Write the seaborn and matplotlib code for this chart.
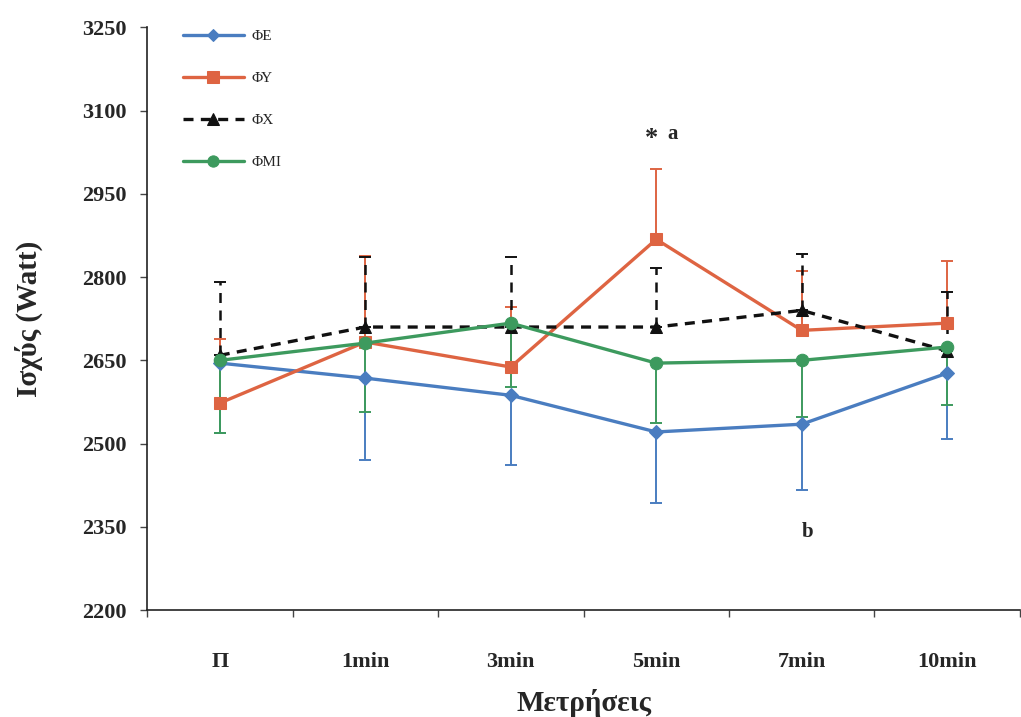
import numpy as np
import pandas as pd
import matplotlib
matplotlib.use("Agg")
import matplotlib.pyplot as plt
import seaborn as sns

# Measurement points
categories = ["Π", "1min", "3min", "5min", "7min", "10min"]

# Mean power (W) per group
fe_mean = [2645, 2618, 2587, 2521, 2535, 2627]
fy_mean = [2573, 2683, 2638, 2868, 2704, 2717]
fx_mean = [2659, 2710, 2710, 2710, 2740, 2667]
fmi_mean = [2650, 2681, 2717, 2645, 2650, 2674]

# Standard deviations (drawn one-sided)
fe_sd = [125, 148, 126, 128, 119, 119]
fy_sd = [115, 155, 108, 126, 107, 112]
fx_sd = [133, 126, 126, 106, 101, 106]
fmi_sd = [131, 124, 115, 108, 102, 105]

series_names = ["ΦΕ", "ΦΥ", "ΦΧ", "ΦΜΙ"]

sns.set_theme(style="white")
plt.rcParams["font.family"] = ["Liberation Serif", "DejaVu Serif"]

colors = {"ΦΕ": "#4a7dc0", "ΦΥ": "#de6442", "ΦΧ": "#111111", "ΦΜΙ": "#3d9a5e"}
markers = {"ΦΕ": "D", "ΦΥ": "s", "ΦΧ": "^", "ΦΜΙ": "o"}
msizes = {"ΦΕ": 7, "ΦΥ": 9, "ΦΧ": 9, "ΦΜΙ": 9}

means = {"ΦΕ": fe_mean, "ΦΥ": fy_mean, "ΦΧ": fx_mean, "ΦΜΙ": fmi_mean}
sds = {"ΦΕ": fe_sd, "ΦΥ": fy_sd, "ΦΧ": fx_sd, "ΦΜΙ": fmi_sd}
# error bar direction: -1 below the mean, +1 above
direction = {"ΦΕ": -1, "ΦΥ": 1, "ΦΧ": 1, "ΦΜΙ": -1}

rows = []
for name in series_names:
    for i, c in enumerate(categories):
        rows.append({"pos": i, "cat": c, "group": name, "power": means[name][i]})
df = pd.DataFrame(rows)

fig = plt.figure(figsize=(10.21, 7.17), dpi=100)
ax = fig.add_axes([0.144, 0.149, 0.855, 0.813])

x = np.arange(len(categories))

# one-sided error bars
for name in series_names:
    m = np.array(means[name])
    s = np.array(sds[name])
    if direction[name] < 0:
        yerr = [s, np.zeros_like(s)]
    else:
        yerr = [np.zeros_like(s), s]
    eb = ax.errorbar(x, m, yerr=yerr, fmt="none", ecolor=colors[name],
                     elinewidth=1.4, capsize=4, capthick=1.4, zorder=2)
    if name == "ΦΧ":
        for lc in eb[2]:
            lc.set_linestyle((0, (4, 3)))
            lc.set_linewidth(1.8)

for k, name in enumerate(series_names):
    sub = df[df["group"] == name]
    sns.lineplot(data=sub, x="pos", y="power", ax=ax, color=colors[name],
                 marker=markers[name], markersize=msizes[name],
                 markeredgecolor=colors[name], linewidth=2.4,
                 label=name, zorder=3 + k)
    if name == "ΦΧ":
        ax.lines[-1].set_dashes((3, 2.2))

ax.set_xlim(-0.5, 5.5)
ax.set_ylim(2200, 3250)
ax.set_yticks(np.arange(2200, 3251, 150))
ax.set_xticks(x)
ax.set_xticklabels(categories)
ax.set_xticks(np.arange(-0.5, 5.6, 1.0), minor=True)

for sp in ["top", "right"]:
    ax.spines[sp].set_visible(False)
for sp in ["left", "bottom"]:
    ax.spines[sp].set_color("#222222")
    ax.spines[sp].set_linewidth(1.2)

ax.tick_params(axis="y", which="major", direction="out", length=5, width=1,
               color="#444444", labelsize=16, pad=10, left=True)
ax.tick_params(axis="x", which="major", length=0, labelsize=16, pad=30)
ax.tick_params(axis="x", which="minor", direction="out", length=5, width=1,
               color="#444444", bottom=True)
for lab in ax.get_xticklabels() + ax.get_yticklabels():
    lab.set_fontweight("bold")

ax.set_xlabel("Μετρήσεις", fontsize=21, fontweight="bold", labelpad=12)
ax.set_ylabel("Ισχύς (Watt)", fontsize=21, fontweight="bold", labelpad=28)
ax.grid(False)

# significance markers
ax.text(2.97, 3050, "*", fontsize=19, fontweight="bold", ha="center", va="center")
ax.text(3.11, 3057, "a", fontsize=15, fontweight="bold", ha="center", va="center")
ax.text(4.04, 2340, "b", fontsize=15, fontweight="bold", ha="center", va="center")

leg = ax.legend(loc="upper left", bbox_to_anchor=(0.025, 1.02), frameon=False,
                fontsize=11, handlelength=4.0, labelspacing=1.85, handletextpad=0.5,
                markerscale=0.9)

fig.savefig("out.png", dpi=100)
